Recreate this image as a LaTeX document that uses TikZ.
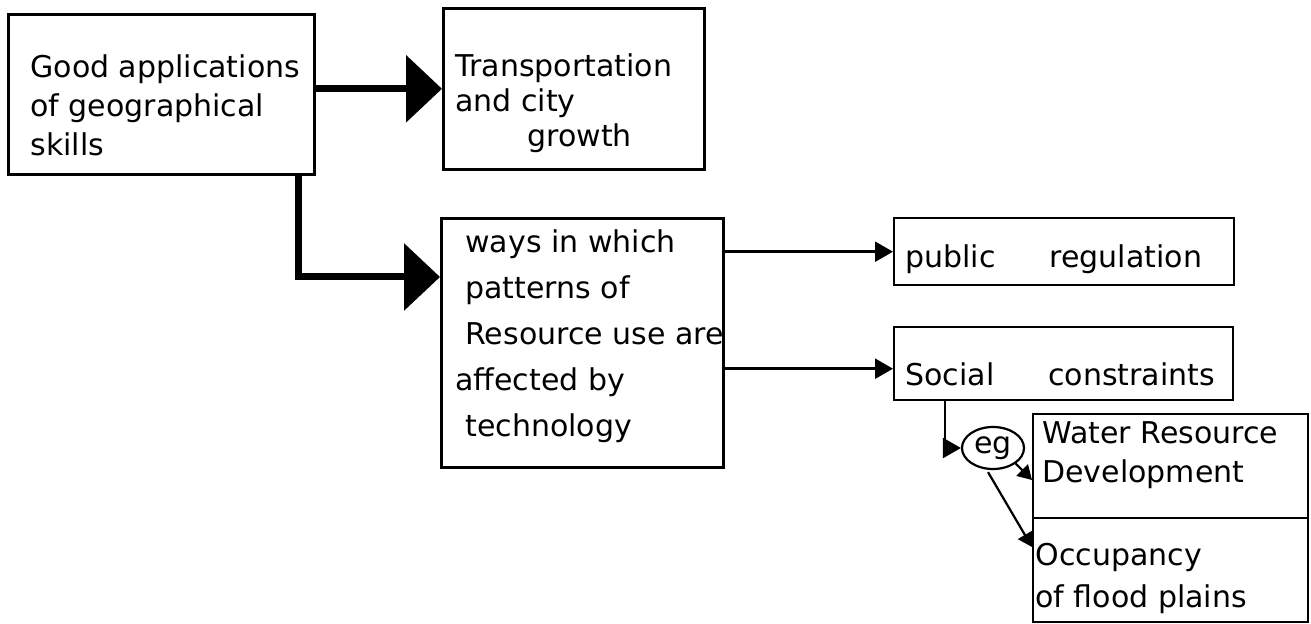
\documentclass[tikz,border=0pt]{standalone}
\usepackage{fontspec}
\setmainfont{DejaVu Sans}
\usetikzlibrary{arrows.meta,shapes.geometric,calc}
\begin{document}
\begin{tikzpicture}[x=0.5pt,y=-0.5pt,
  box/.style={draw, line width=#1, inner sep=0pt, anchor=north west},
  box/.default=1.2pt,
  lbl/.style={inner sep=0pt, anchor=north west, align=left},
  bigarrow/.style={line width=3.5pt, -{Triangle[length=18pt,width=33pt]}},
  smallarrow/.style={line width=1.2pt, -{Triangle[length=9pt,width=10pt]}},
  tinyarrow/.style={line width=1.1pt, -{Triangle[length=7pt,width=8pt]}},
]
\fill[white] (0,0) rectangle (1311,624);
\useasboundingbox (0,0) rectangle (1311,624);

% boxes
\node[box=1.6pt, minimum width=153pt, minimum height=80pt] (b1) at (7,13) {};
\node[box=1.3pt, minimum width=130.5pt, minimum height=80.5pt] (b2) at (442,7) {};
\node[box=1.3pt, minimum width=141pt, minimum height=124.5pt] (b3) at (440,217) {};
\node[box=1.2pt, minimum width=170pt, minimum height=33.5pt] (pr) at (893,217) {};
\node[box=1.2pt, minimum width=169.5pt, minimum height=36.5pt] (sc) at (893,326) {};
\node[box=1.1pt, minimum width=137.5pt, minimum height=52pt] (wr) at (1032,413) {};
\node[box=1.1pt, minimum width=137.5pt, minimum height=52pt] (oc) at (1032,517) {};
\node[draw, ellipse, line width=1.1pt, inner sep=0pt, minimum width=31pt,
      minimum height=21pt, font=\fontsize{15}{18}\selectfont] (eg) at (993,448) {eg};

% box texts
\node[lbl, font=\fontsize{15}{19.5}\selectfont] (t1) at (30,50)
  {\strut Good applications\\of geographical\\skills};
\node[lbl, font=\fontsize{15}{17.5}\selectfont] (t2) at (455,52)
  {\strut Transportation\\and city\\\hspace*{36pt}growth};
\node[lbl, font=\fontsize{15}{23}\selectfont] (t3) at (465,220)
  {\strut ways in which\\patterns of\\Resource use are\\\hspace*{-5pt}affected by\\technology};
\node[lbl, font=\fontsize{15}{20}\selectfont] (tpr) at (905,239)
  {\strut public\hspace{1.8em}regulation};
\node[lbl, font=\fontsize{15}{20}\selectfont] (tsc) at (905,357)
  {\strut Social\hspace{1.8em}constraints};
\node[lbl, font=\fontsize{15}{19.5}\selectfont] (twr) at (1042,416)
  {\strut Water Resource\\Development};
\node[lbl, font=\fontsize{15}{21}\selectfont] (toc) at (1035,536)
  {\strut Occupancy\\of flood plains};

% connectors
\draw[bigarrow] (b2.west -| b1.east) -- (b2.west);
\draw[bigarrow] ($(b1.south west)+(291,0)$) |- ($(b3.north west)+(0,60)$);
\draw[smallarrow] (pr.west -| b3.east) -- (pr.west);
\draw[smallarrow] ($(sc.west -| b3.east)+(0,5)$) -- ($(sc.west)+(0,5)$);
\draw[smallarrow] ($(sc.south west)+(52,0)$) |- (eg.west);
\draw[tinyarrow] (eg.south east) -- ($(wr.north west)+(0,67)$);
\draw[tinyarrow] ($(eg.south)+(-5,2)$) -- ($(oc.north west)+(0,30)$);
\end{tikzpicture}
\end{document}
